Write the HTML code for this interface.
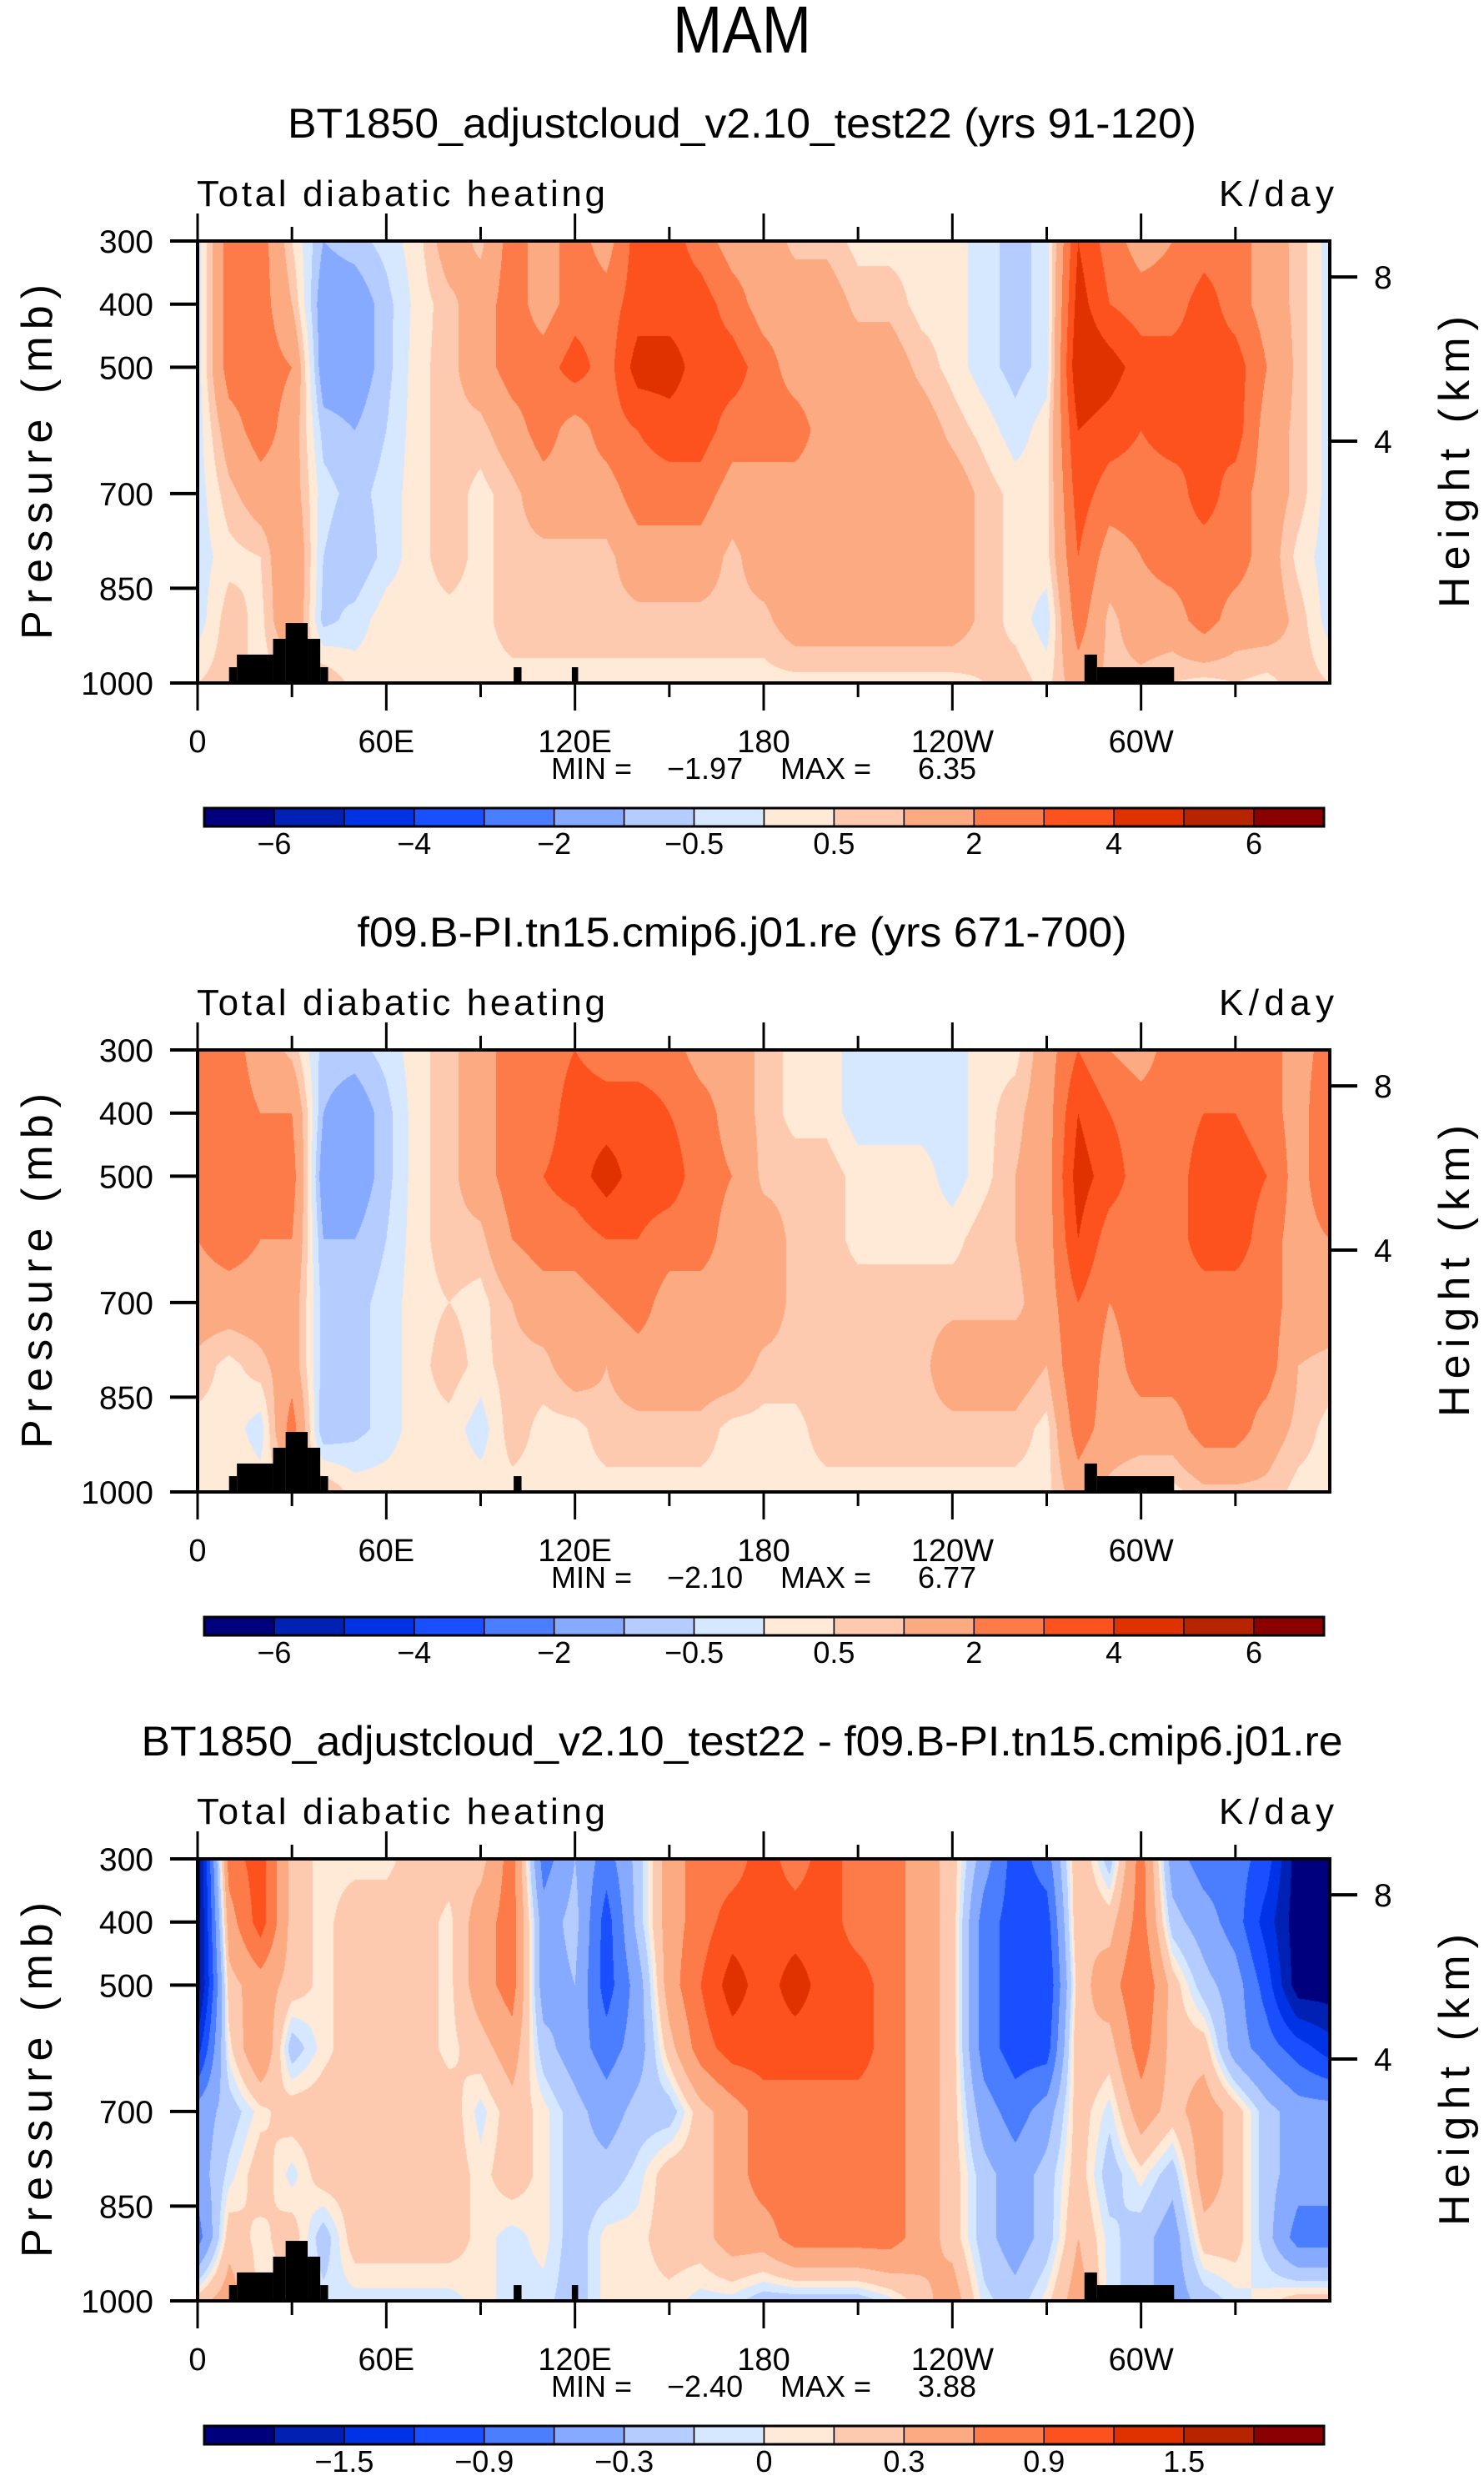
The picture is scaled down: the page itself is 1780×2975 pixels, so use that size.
<!DOCTYPE html>
<html><head><meta charset="utf-8">
<style>
html,body{margin:0;padding:0;background:#fff;}
#wrap{position:relative;width:1780px;height:2975px;overflow:hidden;background:#fff;}
canvas{position:absolute;}
svg{position:absolute;left:0;top:0;}
text{font-family:"Liberation Sans",sans-serif;fill:#000;}
</style></head>
<body>
<div id="wrap">
<canvas id="c0"></canvas>
<canvas id="c1"></canvas>
<canvas id="c2"></canvas>
<svg id="svg" width="1780" height="2975">
<text x="890" y="63" text-anchor="middle" font-size="80" textLength="166" lengthAdjust="spacingAndGlyphs">MAM</text>
</svg>
</div>
<script>
// ---- grid axes ----
const lons = [0,10,20,30,40,50,60,70,80,90,100,110,120,130,140,150,160,170,180,190,200,210,220,230,240,250,260,270,280,290,300,310,320,330,340,350,360];
const pressures = [300,400,500,600,700,800,900,1000];
const pTickValues = [300,400,500,700,850,1000];
const lonTickValues = [0,60,120,180,240,300];
const lonTickLabels = ["0","60E","120E","180","120W","60W"];
const heightTickP = [357,617];
const heightTickLabels = ["8","4"];

// ---- panel 1: BT1850 (K/day), rows = pressures ----
const fieldA = [
[-0.3,2.5,2.5,0.5,-1,-0.7,-0.3,0.3,1.5,0.8,2.5,1.5,2.5,1.5,3.5,3.5,2.5,1.5,1.5,0.8,0.8,0.3,0.3,0.3,0.3,-0.3,-0.7,-0.3,4,2.5,1.5,2,2.5,2.5,1.5,0.8,-0.3],
[-0.3,2.5,2.5,1,-1.5,-1.5,-0.7,0.2,0.8,1.5,2.5,1.5,2.5,2.5,3.5,3.5,3.5,2.5,1.5,1.5,1.5,0.8,0.8,0.3,0.3,-0.3,-0.7,-0.3,4.5,3,2.5,2.5,3.5,2.5,1.5,0.8,-0.3],
[-0.3,2.5,2.5,2,-1.5,-1.5,-0.7,0.3,0.8,1.5,2.5,2.5,3.5,2.5,4.5,4.5,3.5,3.5,2.5,1.5,1.5,1.5,1.5,0.8,0.3,-0.3,-0.7,-0.3,5,4.5,3.5,3.5,3.5,3.5,2,0.8,-0.3],
[-0.3,1.5,2.5,1.5,-0.7,-1,-0.5,0.3,0.8,0.8,1.5,2.5,1.5,2.5,3,3.5,3.5,2.5,2.5,2.5,1.5,1.5,1.5,1.5,0.8,0.3,-0.3,0.3,4,3.5,3,3.5,3,3.5,1.5,0.8,-0.3],
[-0.3,0.8,1.5,1.5,-0.3,-0.7,-0.3,0.3,0.8,0.3,0.8,1.5,1.5,1.5,2.5,2.5,2.5,1.5,1.5,1.5,1.5,1.5,1.5,1.5,1.5,0.8,0.3,0.3,3.5,2.5,2.5,2.5,3.5,2.5,1.5,0.8,-0.3],
[-0.3,0.3,0.5,2,-0.5,-1,-0.3,0.3,0.8,0.3,0.8,0.8,0.8,0.8,1.5,1.5,1.5,0.8,1.5,1.5,1.5,1.5,1.5,1.5,1.5,0.8,0.3,0.3,3,1.5,2,2.5,2.5,2.5,1.5,0.3,-0.3],
[-0.3,0.8,0.3,2,-0.7,-0.3,0.3,0.3,0.3,0.3,0.8,0.8,0.8,0.8,0.8,0.8,0.8,0.8,0.8,1.5,1.5,1.5,1.5,1.5,1.5,0.8,0.3,-0.3,2.5,0.8,1.5,1.5,2.5,1.5,1.5,0.8,-0.3],
[0.5,0.8,0.3,0.3,1,0.3,0.3,0.3,0.3,0.3,0.3,0.3,0.3,0.3,0.3,0.3,0.3,0.3,0.3,0.3,0.3,0.3,0.3,0.3,0.3,0.5,0.8,0.3,1.5,0.8,0.8,0.5,0.3,0.5,0.3,0.8,0.5]
];
// ---- panel 2: f09.B-PI (K/day) ----
const fieldB = [
[2.5,2.5,1.5,0.8,-0.7,-0.7,-0.3,0.3,0.8,1.5,2.5,2.5,3,2.5,2.5,2.5,1.5,1.5,0.8,0.3,0.3,-0.3,-0.3,-0.3,-0.3,0.3,0.3,1.5,3,2,1.5,2.5,2.5,2.5,2.5,1.5,2.5],
[3,2.5,2,2,-1,-1.5,-0.7,0.3,0.8,1.5,2.5,2.5,3.5,3.5,3.5,3,2.5,1.5,0.8,0.3,0.3,-0.3,-0.3,-0.3,-0.3,0.3,0.8,1.5,4,3,2.5,2.5,3,3,2.5,1.5,3],
[3,2.5,2.5,2.5,-1.5,-1.5,-0.7,0.3,0.8,1.5,2.5,3,3.5,4.5,3.5,3.5,2.5,2,0.8,0.8,0.8,0.3,0.3,0.3,-0.3,0.3,1,1.5,4.5,3.5,2.5,2.5,3.5,3.5,3,1.5,3],
[2,2.5,2,2,-1,-1,-0.5,0.3,0.8,0.8,2,2.5,2.5,3,3,2.5,2.5,1.5,1.5,0.8,0.8,0.3,0.3,0.3,0.3,0.8,1,1.5,4,2.5,2.5,2.5,3.5,3.5,2.5,1.5,2],
[1.5,1.5,1.5,1.5,-0.7,-0.7,-0.3,0.3,0.5,0.3,1,1.5,1.5,2,2.5,1.5,1.5,1.5,1.5,0.8,0.8,0.8,0.8,0.8,0.8,0.8,0.8,1.5,3,2,2.5,2.5,2.5,2.5,2.5,1.5,1.5],
[0.8,0.3,0.8,1.5,-0.7,-0.7,-0.3,0.3,0.8,0.3,0.8,0.8,1.5,1,1.5,1.5,1.5,1.5,0.8,0.8,0.8,0.8,0.8,0.8,1.5,1.5,1.5,1,3,1.5,2.5,2.5,2.5,2.5,2.5,1,0.8],
[0.3,0.3,-0.3,2.5,-1,-0.7,-0.3,0.3,0.3,-0.3,0.8,0.3,0.3,0.8,0.8,0.8,0.8,0.3,0.3,0.3,0.8,0.8,0.8,0.8,0.8,0.8,0.8,0.3,2.5,1.5,1.5,1.5,2.5,2.5,1.5,0.8,0.3],
[0.3,0.5,0.3,0.3,1,0.3,0.3,0.3,0.3,0.3,0.3,0.3,0.3,0.3,0.3,0.3,0.3,0.3,0.3,0.3,0.3,0.3,0.3,0.3,0.3,0.3,0.3,0.3,1.5,0.8,0.3,0.3,0.8,0.8,0.8,0.3,0.3]
];
// ---- panel 3: difference (K/day) ----
const fieldC = [
[-2,0.75,1.05,0.2,0.05,0.05,0.05,0.2,0.2,0.2,0.75,-0.75,-0.3,-0.75,-0.2,0.45,0.75,0.75,1.05,0.75,1.05,0.75,0.75,0.45,0.2,-0.45,-1.05,-0.75,0.3,-0.2,0.75,-0.45,-0.75,-0.75,-1.05,-2,-2],
[-2,0.45,1.05,0.2,0.05,0.2,0.2,0.2,0.05,0.45,0.75,-0.45,-0.2,-1.05,-0.2,0.45,0.75,1.05,1.05,1.05,1.05,0.75,0.75,0.45,0.2,-0.75,-1.05,-1.05,0.3,0.2,0.75,-0.2,-0.45,-0.75,-1.35,-2,-2],
[-2,0.2,0.45,0.2,0.05,0.2,0.2,0.2,0.05,0.45,0.75,-0.45,-0.3,-1.05,-0.45,0.45,0.9,1.35,1.05,1.35,1.05,1.05,0.75,0.45,0.2,-0.75,-1.05,-1.2,0.2,0.45,0.9,0.2,-0.2,-0.45,-1.05,-2,-2],
[-1.35,0.05,0.6,-0.2,0.05,0.2,0.2,0.2,0.05,0.2,0.45,-0.2,-0.45,-0.75,-0.45,0.2,0.75,1.05,1.05,1.05,1.05,1.05,0.75,0.45,0.2,-0.75,-1.05,-1.05,0.3,0.2,0.75,0.2,0.2,-0.45,-0.75,-1.05,-1.35],
[-0.45,-0.2,0.05,0.2,0.2,0.2,0.2,0.2,0.2,-0.05,0.2,0.05,-0.2,-0.45,-0.2,-0.2,0.2,0.45,0.75,0.75,0.75,0.75,0.75,0.45,0.2,-0.45,-0.75,-0.45,0.2,-0.05,0.45,0.2,0.45,0.2,-0.2,-0.45,-0.45],
[-0.45,-0.05,0.2,-0.05,0.2,0.2,0.2,0.2,0.2,0.05,0.2,0.05,-0.2,-0.2,-0.05,0.2,0.2,0.45,0.75,0.75,0.75,0.75,0.75,0.45,0.2,-0.2,-0.45,-0.2,0.2,-0.2,0.05,-0.2,0.45,0.2,-0.2,-0.45,-0.45],
[-0.75,0.2,0.05,0.2,-0.2,0.2,0.2,0.2,0.2,0.05,-0.05,0.05,-0.2,0.05,0.05,0.2,0.2,0.45,0.45,0.75,0.75,0.75,0.75,0.45,0.2,-0.2,-0.45,-0.2,0.3,-0.05,-0.2,-0.45,0.2,0.2,-0.2,-0.75,-0.75],
[0.2,0.45,0.05,0.05,-0.05,-0.05,-0.05,-0.05,-0.05,0.05,-0.05,-0.05,-0.2,0.05,0.05,0.05,-0.05,-0.05,-0.2,-0.2,-0.2,-0.2,-0.05,0.2,0.45,-0.05,-0.2,0.05,0.45,-0.05,-0.2,-0.45,-0.2,-0.05,0.05,0.2,0.2]
];
// contour levels
const levelsAB = [-6,-5,-4,-3,-2,-1,-0.5,0,0.5,1,2,3,4,5,6];
const levelsC = [-1.8,-1.5,-1.2,-0.9,-0.6,-0.3,-0.1,0,0.1,0.3,0.6,0.9,1.2,1.5,1.8];
const cbLabelsAB = ["−6","","−4","","−2","","−0.5","","0.5","","2","","4","","6"];
const cbLabelsC = ["","−1.5","","−0.9","","−0.3","","0","","0.3","","0.9","","1.5",""];
const palette = ["#00007f","#0021b4","#0033e6","#1a4fff","#4a7dff","#86aaff","#b4ccff","#d6e8ff","#ffe9d7","#fdcab0","#fcaa82","#fd7b48","#fe521e","#e03200","#b82300","#8b0000"];
// topography (start lon, end lon, top pressure)
const topoStart = [10,12.5,24,28,35,39,100.5,119,282,286];
const topoEnd   = [12.5,24,28,35,39,41.5,103,121,286,310.5];
const topoTopP  = [975,955,930,905,930,975,975,975,955,975];
const minVals = ["−1.97","−2.10","−2.40"];
const maxVals = ["6.35","6.77","3.88"];
const subtitles = ["BT1850_adjustcloud_v2.10_test22 (yrs 91-120)","f09.B-PI.tn15.cmip6.j01.re (yrs 671-700)","BT1850_adjustcloud_v2.10_test22 - f09.B-PI.tn15.cmip6.j01.re"];
const subtitleWidths = [1090,923,1441];

const NS = "http://www.w3.org/2000/svg";
const svg = document.getElementById('svg');
function mk(tag, attrs, parent){const e=document.createElementNS(NS,tag);for(const k in attrs)e.setAttribute(k,attrs[k]);(parent||svg).appendChild(e);return e;}
function hexRGB(h){return [parseInt(h.substr(1,2),16),parseInt(h.substr(3,2),16),parseInt(h.substr(5,2),16)];}
const palRGB = palette.map(hexRGB);

const X0=237, X1=1595;
const panelOffsets=[0,970,1940];
const fields=[fieldA,fieldB,fieldC];

function interp(field, lon, p){
  let i=Math.min(Math.floor(lon/10),lons.length-2); let fx=(lon-lons[i])/10;
  let j=0; while(j<pressures.length-2 && p>pressures[j+1]) j++;
  let fy=(p-pressures[j])/(pressures[j+1]-pressures[j]);
  const a=field[j][i],b=field[j][i+1],c=field[j+1][i],d=field[j+1][i+1];
  return (a*(1-fx)+b*fx)*(1-fy)+(c*(1-fx)+d*fx)*fy;
}

for(let k=0;k<3;k++){
  const dy=panelOffsets[k];
  const Y0=289+dy, Y1=819+dy;
  const xS=lon=>X0+lon/360*(X1-X0);
  const yS=p=>Y0+(p-300)/700*(Y1-Y0);
  const levels = k<2?levelsAB:levelsC;
  const cbLabels = k<2?cbLabelsAB:cbLabelsC;
  const cv=document.getElementById('c'+k);
  const W=X1-X0, H=Y1-Y0;
  cv.width=W; cv.height=H; cv.style.left=X0+'px'; cv.style.top=Y0+'px';
  const ctx=cv.getContext('2d'); const img=ctx.createImageData(W,H);
  for(let py=0;py<H;py++){
    const p=300+(py+0.5)/H*700;
    for(let px=0;px<W;px++){
      const lon=(px+0.5)/W*360;
      const v=interp(fields[k],lon,p);
      let c=0; while(c<levels.length && v>=levels[c]) c++;
      const rgb=palRGB[c]; const o=(py*W+px)*4;
      img.data[o]=rgb[0];img.data[o+1]=rgb[1];img.data[o+2]=rgb[2];img.data[o+3]=255;
    }
  }
  ctx.putImageData(img,0,0);
  for(let t=0;t<topoStart.length;t++){
    if(k===1 && topoStart[t]===119) continue;
    const r=mk('rect',{x:xS(topoStart[t]),y:yS(topoTopP[t]),width:xS(topoEnd[t])-xS(topoStart[t]),height:Y1-yS(topoTopP[t]),fill:'#000'});
    
    
  }
  const fr=mk('rect',{x:X0,y:Y0,width:W,height:H,fill:'none',stroke:'#000','stroke-width':4});
  
  
  for(let lon=0;lon<360;lon+=30){
    const major=lon%60===0; const L=major?33:17;
    const t1=mk('line',{x1:xS(lon),x2:xS(lon),y1:Y0,y2:Y0-L,stroke:'#000','stroke-width':3});
    
    
    const t2=mk('line',{x1:xS(lon),x2:xS(lon),y1:Y1,y2:Y1+L,stroke:'#000','stroke-width':3});
    
    
  }
  lonTickValues.forEach((lon,i)=>{
    const t=mk('text',{x:xS(lon),y:Y1+83,'text-anchor':'middle','font-size':38});
    t.textContent=lonTickLabels[i];
    
    
  });
  pTickValues.forEach(p=>{
    const l=mk('line',{x1:X0-33,x2:X0,y1:yS(p),y2:yS(p),stroke:'#000','stroke-width':4});
    
    
    const t=mk('text',{x:184,y:yS(p)+14,'text-anchor':'end','font-size':39});
    t.textContent=String(p);
    
    
  });
  heightTickP.forEach((p,i)=>{
    const l=mk('line',{x1:X1,x2:X1+33,y1:yS(p),y2:yS(p),stroke:'#000','stroke-width':4});
    
    
    const t=mk('text',{x:1648,y:yS(p)+14,'font-size':39});
    t.textContent=heightTickLabels[i];
    
    
  });
  const yt=mk('text',{x:0,y:0,'text-anchor':'middle','font-size':52,textLength:426,lengthAdjust:'spacing',transform:`translate(62,${dy+554}) rotate(-90)`});
  yt.textContent='Pressure (mb)';
  
  
  const ht=mk('text',{x:0,y:0,'text-anchor':'middle','font-size':52,textLength:350,lengthAdjust:'spacing',transform:`translate(1762,${dy+554}) rotate(-90)`});
  ht.textContent='Height (km)';
  
  
  const st=mk('text',{x:890,y:dy+165,'text-anchor':'middle','font-size':50,textLength:subtitleWidths[k],lengthAdjust:'spacingAndGlyphs'});
  st.textContent=subtitles[k];
  
  
  const vl=mk('text',{x:236,y:dy+247,'font-size':44,textLength:490,lengthAdjust:'spacing'});
  vl.textContent='Total diabatic heating';
  
  
  const ul=mk('text',{x:1600,y:dy+247,'text-anchor':'end','font-size':44,textLength:138,lengthAdjust:'spacing'});
  ul.textContent='K/day';
  
  
  const mm=[['MIN =',661],[minVals[k],800],['MAX =',936],[maxVals[k],1101]];
  mm.forEach(m=>{
    const t=mk('text',{x:m[1],y:dy+934,'font-size':36});
    t.textContent=m[0];
    
    
  });
  const cbX0=245, cbX1=1588, cbY=dy+969, cbH=22, bw=(cbX1-cbX0)/palette.length;
  palette.forEach((col,i)=>{
    const r=mk('rect',{x:cbX0+i*bw,y:cbY,width:bw,height:cbH,fill:col,stroke:'#000','stroke-width':1.5});
    
    
  });
  const cbf=mk('rect',{x:cbX0,y:cbY,width:cbX1-cbX0,height:cbH,fill:'none',stroke:'#000','stroke-width':3});
  
  
  levels.forEach((lv,i)=>{
    if(!cbLabels[i]) return;
    const t=mk('text',{x:cbX0+(i+1)*bw,y:dy+1024,'text-anchor':'middle','font-size':36});
    t.textContent=cbLabels[i];
    
    
  });
}
</script>
</body></html>
